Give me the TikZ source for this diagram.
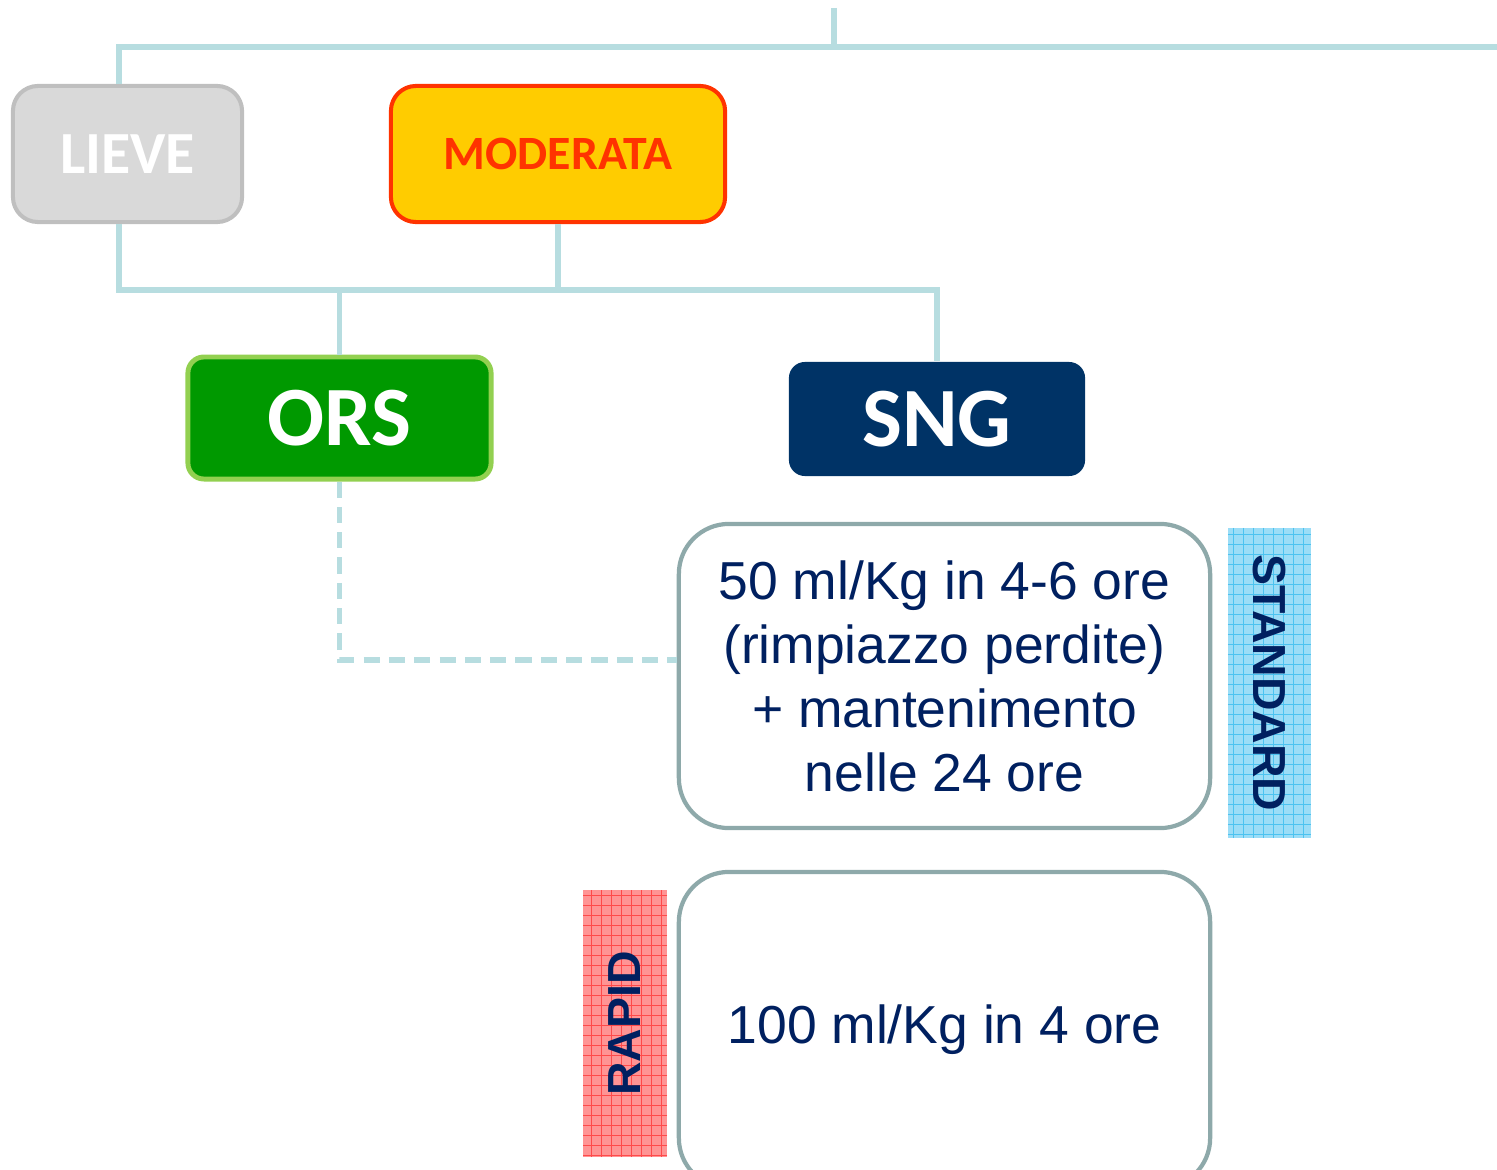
\documentclass[tikz,border=0pt]{standalone}
\usepackage{fontspec}
\setmainfont{Liberation Sans}
\newfontfamily\carlito{Carlito}
\usetikzlibrary{calc}
\definecolor{conn}{HTML}{B7DDE0}
\definecolor{navy}{HTML}{002060}
\definecolor{boxborder}{HTML}{8EA9AA}
\definecolor{lievefill}{HTML}{D9D9D9}
\definecolor{lieveborder}{HTML}{BFBFBF}
\definecolor{modfill}{HTML}{FFCC00}
\definecolor{modred}{HTML}{FF3300}
\definecolor{orsfill}{HTML}{009900}
\definecolor{orsborder}{HTML}{92D050}
\definecolor{sngfill}{HTML}{003366}
\definecolor{stdfill}{HTML}{9BDDF7}
\definecolor{stdgrid}{HTML}{4CC3F0}
\definecolor{rapfill}{HTML}{FF9494}
\definecolor{rapgrid}{HTML}{FF4A4A}
\tikzset{
  connector/.style={draw=conn, line width=1.45pt},
  dashconn/.style={connector, dash pattern=on 4.6pt off 2.6pt},
  sevbox/.style={rectangle, rounded corners=0.25cm, line width=1.15pt, minimum height=1.36cm, inner sep=0pt},
  treatbox/.style={rectangle, rounded corners=0.16cm, inner sep=0pt,
     font=\carlito\bfseries\fontsize{24}{28}\selectfont, text=white},
  infobox/.style={rectangle, rounded corners=0.5cm, draw=boxborder, line width=1.2pt, fill=white,
     minimum width=5.31cm, minimum height=3.04cm, align=center, text=navy, inner sep=0pt,
     font=\fontsize{15.2}{18.2}\selectfont},
  tagbox/.style={rectangle, inner sep=0pt, text=navy, font=\bfseries\fontsize{13.2}{15}\selectfont},
}
\begin{document}
\begin{tikzpicture}[x=0.01cm, y=-0.01cm]
\useasboundingbox (0,0) rectangle (1497,1170);

% severity boxes
\node[sevbox, fill=lievefill, draw=lieveborder, text=white, minimum width=2.29cm,
  font=\carlito\bfseries\fontsize{17}{20}\selectfont] (lieve) at (127.5,154) {LIEVE};
\node[sevbox, fill=modfill, draw=modred, text=modred, minimum width=3.34cm,
  font=\carlito\bfseries\fontsize{13.6}{16}\selectfont] (moderata) at (558,154) {MODERATA};

% treatment boxes
\node[treatbox, fill=orsfill, draw=orsborder, line width=1.4pt, minimum width=3.03cm, minimum height=1.22cm] (ors) at (339.5,418) {ORS};
\node[treatbox, fill=sngfill, minimum width=2.96cm, minimum height=1.14cm] (sng) at (937,419) {SNG};

% info boxes
\node[infobox] (box1) at (944.5,676) {50 ml/Kg in 4-6 ore\\(rimpiazzo perdite)\\+ mantenimento\\nelle 24 ore};
\node[infobox, minimum height=3.16cm] (box2) at (944.5,1030) {100 ml/Kg in 4 ore};

% tags
\node[tagbox, rotate=-90, minimum width=3.10cm, minimum height=0.83cm, fill=stdfill,
  path picture={\draw[stdgrid, line width=0.25pt] (path picture bounding box.south west) grid[step=1mm] (path picture bounding box.north east);}]
  (standard) at (1269.5,683) {STANDARD};
\node[tagbox, rotate=90, minimum width=2.67cm, minimum height=0.84cm, fill=rapfill,
  path picture={\draw[rapgrid, line width=0.25pt] (path picture bounding box.south west) grid[step=1mm] (path picture bounding box.north east);}]
  (rapid) at (625,1023.5) {RAPID};

% connectors
\coordinate (top) at (834,8);
\coordinate (topR) at (1497,47);
\coordinate (bus) at (558,290);
\coordinate (lieveN) at ($(lieve.north)+(-8.5,0)$);
\coordinate (lieveS) at ($(lieve.south)+(-8.5,0)$);

\draw[connector] (lieveN) |- (topR);
\draw[connector] (top) -- (top |- topR);
\draw[connector] (lieveS) |- (bus) -| (sng.north);
\draw[connector] (moderata.south) -- (bus);
\draw[connector] (ors.north) -- (ors.north |- bus);
\draw[dashconn] (ors.south) |- ($(box1.west)+(0,-16)$);
\end{tikzpicture}
\end{document}
